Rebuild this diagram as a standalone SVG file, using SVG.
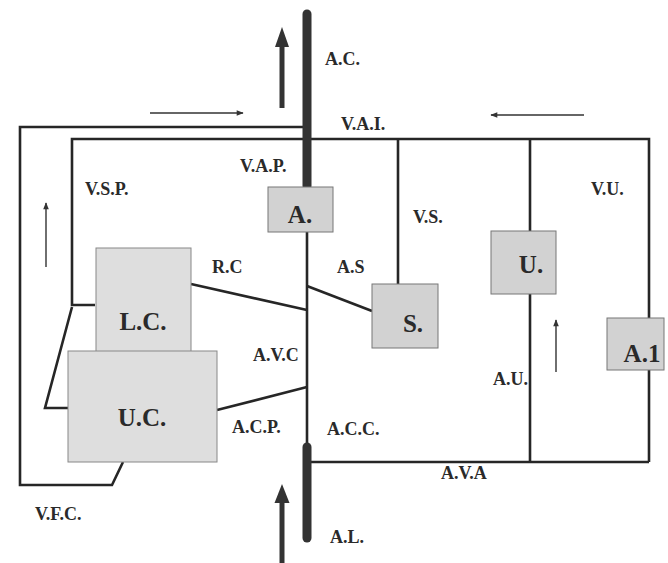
<svg xmlns="http://www.w3.org/2000/svg" width="668" height="563" viewBox="0 0 668 563">
<style>
.ln{fill:none;stroke:#262626;stroke-width:2.6;stroke-linejoin:miter}
.thin{fill:none;stroke:#333;stroke-width:1.4}
.bar{stroke:#333;stroke-width:9;stroke-linecap:round}
.box{fill:#d2d2d2;stroke:#777;stroke-width:1}
.bigbox{fill:#dedede;stroke:#888;stroke-width:1}
.lbl{font-family:"Liberation Serif",serif;font-size:18px;font-weight:bold;fill:#2a2a2a}
.blbl{font-family:"Liberation Serif",serif;font-size:25px;font-weight:bold;fill:#2a2a2a;text-anchor:middle}
</style>
<defs>
<marker id="ah" viewBox="0 0 10 10" refX="9" refY="5" markerWidth="9" markerHeight="7" markerUnits="userSpaceOnUse" orient="auto">
<path d="M0,1 L10,5 L0,9 z" fill="#333"/>
</marker>
</defs>
<g id="connectors">
<polyline class="ln" points="306,127 20,127 20,485 112,485 123,462"/>
<polyline class="ln" points="95,305 72,305 72,139 649,139 649,318"/>
<line class="ln" x1="649" y1="370" x2="649" y2="462"/>
<polyline class="ln" points="72,307 45,408 68,408"/>
<line class="ln" x1="398" y1="139" x2="398" y2="284"/>
<line class="ln" x1="530" y1="139" x2="530" y2="231"/>
<line class="ln" x1="530" y1="294" x2="530" y2="462"/>
<line class="ln" x1="306" y1="462" x2="649" y2="462"/>
<line class="ln" x1="307" y1="231" x2="307" y2="446"/>
<line class="ln" x1="191" y1="284" x2="307" y2="310"/>
<line class="ln" x1="217" y1="410" x2="307" y2="387"/>
<line class="ln" x1="307" y1="286" x2="372" y2="311"/>
<line class="bar" x1="307" y1="14" x2="307" y2="186"/>
<line class="bar" x1="307" y1="447" x2="307" y2="538"/>
<line x1="282" y1="44" x2="282" y2="108" stroke="#333" stroke-width="5"/>
<path d="M282,27 L289,47 L275,47 z" fill="#333"/>
<line x1="282" y1="500" x2="282" y2="563" stroke="#333" stroke-width="5"/>
<path d="M282,484 L289.5,503 L274.5,503 z" fill="#333"/>
<line class="thin" x1="150" y1="113" x2="243" y2="113" marker-end="url(#ah)"/>
<line class="thin" x1="584" y1="115" x2="491" y2="115" marker-end="url(#ah)"/>
<line class="thin" x1="46" y1="267" x2="46" y2="203" marker-end="url(#ah)"/>
<line class="thin" x1="556" y1="372" x2="556" y2="320" marker-end="url(#ah)"/>
</g>
<g id="node-A"><rect class="box" x="268" y="187" width="65" height="45"/><text class="blbl" x="300" y="223">A.</text></g>
<g id="node-S"><rect class="box" x="372" y="284" width="66" height="64"/><text class="blbl" x="413" y="332">S.</text></g>
<g id="node-U"><rect class="box" x="491" y="231" width="65" height="63"/><text class="blbl" x="531" y="273">U.</text></g>
<g id="node-A1"><rect class="box" x="607" y="318" width="57" height="52"/><text class="blbl" x="642" y="362">A.1</text></g>
<g id="node-LC"><rect class="bigbox" x="96" y="248" width="95" height="104"/><text class="blbl" x="143" y="330">L.C.</text></g>
<g id="node-UC"><rect class="bigbox" x="68" y="351" width="149" height="111"/><text class="blbl" x="142" y="426">U.C.</text></g>
<g id="labels">
<text class="lbl" x="325" y="65">A.C.</text>
<text class="lbl" x="341" y="130">V.A.I.</text>
<text class="lbl" x="240" y="172">V.A.P.</text>
<text class="lbl" x="85" y="195">V.S.P.</text>
<text class="lbl" x="413" y="223">V.S.</text>
<text class="lbl" x="591" y="195">V.U.</text>
<text class="lbl" x="212" y="273">R.C</text>
<text class="lbl" x="337" y="273">A.S</text>
<text class="lbl" x="253" y="361">A.V.C</text>
<text class="lbl" x="493" y="385">A.U.</text>
<text class="lbl" x="232" y="433">A.C.P.</text>
<text class="lbl" x="327" y="435">A.C.C.</text>
<text class="lbl" x="441" y="479">A.V.A</text>
<text class="lbl" x="35" y="520">V.F.C.</text>
<text class="lbl" x="330" y="543">A.L.</text>
</g>
</svg>
